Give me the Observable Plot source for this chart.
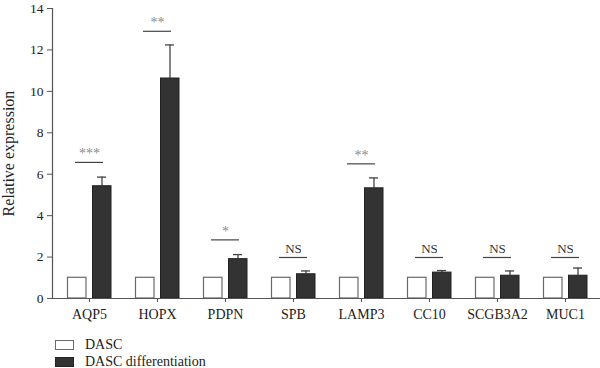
<!DOCTYPE html>
<html>
<head>
<meta charset="utf-8">
<script src="https://cdn.jsdelivr.net/npm/d3@7"></script>
<script src="https://cdn.jsdelivr.net/npm/@observablehq/plot@0.6"></script>
<style>
  html, body { margin: 0; padding: 0; background: #fff; }
  #chart { width: 600px; }
  .legend { font-family: "Liberation Serif", "DejaVu Serif", serif; font-size: 14px; color: #222; margin-left: 55px; }
  .legend .row { display: flex; align-items: center; height: 16.5px; }
  .legend .sw { width: 19px; height: 10px; box-sizing: border-box; margin-right: 11px; }
</style>
</head>
<body>
<div id="chart"></div>
<script>
const genes = ["AQP5", "HOPX", "PDPN", "SPB", "LAMP3", "CC10", "SCGB3A2", "MUC1"];
const seriesNames = ["DASC", "DASC differentiation"];
const dascValues = [1, 1, 1, 1, 1, 1, 1, 1];
const diffValues = [5.42, 10.62, 1.9, 1.17, 5.32, 1.25, 1.1, 1.1];
const diffErrTop = [5.86, 12.24, 2.12, 1.33, 5.82, 1.35, 1.33, 1.47];
const sigLabels = ["***", "**", "*", "NS", "**", "NS", "NS", "NS"];
const sigLevel = [6.57, 12.9, 2.83, 1.98, 6.5, 1.98, 1.98, 1.98];
const yTicks = [0, 2, 4, 6, 8, 10, 12, 14];

const dascRows = genes.map((g, i) => ({gene: g, value: dascValues[i]}));
const diffRows = genes.map((g, i) => ({gene: g, value: diffValues[i], err: diffErrTop[i]}));
const sigRows = genes.map((g, i) => ({gene: g, label: sigLabels[i], y: sigLevel[i], stars: sigLabels[i] !== "NS"}));

const serif = "Liberation Serif, DejaVu Serif, serif";
const axisColor = "#555";

const plot = Plot.plot({
  width: 600,
  height: 332,
  marginTop: 8,
  marginBottom: 34,
  marginLeft: 52,
  marginRight: 0,
  style: {fontFamily: serif, fontSize: "13.5px", color: "#222", background: "#fff"},
  x: {domain: genes, range: [55, 599], padding: 0, axis: null},
  y: {domain: [0, 14], axis: null},
  marks: [
    Plot.barY(dascRows, {x: "gene", y: "value", fill: "#fff", stroke: "#6a6a6a", strokeWidth: 1.2, insetLeft: 12.5, insetRight: 37}),
    Plot.ruleX(diffRows, {x: "gene", y1: "value", y2: "err", dx: 12.5, stroke: "#444", strokeWidth: 1.3}),
    Plot.tickY(diffRows, {x: "gene", y: "err", stroke: "#444", strokeWidth: 1.3, insetLeft: 42, insetRight: 17}),
    Plot.barY(diffRows, {x: "gene", y: "value", fill: "#333", stroke: "#222", strokeWidth: 1, insetLeft: 37.5, insetRight: 12}),
    Plot.tickY(sigRows, {x: "gene", y: "y", stroke: "#444", strokeWidth: 1.2, insetLeft: 20, insetRight: 20}),
    Plot.text(sigRows.filter(d => d.stars), {x: "gene", y: "y", text: "label", fill: "#8a8a8a", fontSize: 14, lineAnchor: "bottom", dy: -4}),
    Plot.text(sigRows.filter(d => !d.stars), {x: "gene", y: "y", text: "label", fill: "#333", fontSize: 13, lineAnchor: "bottom", dy: -4}),
    Plot.ruleY([0], {stroke: axisColor, strokeWidth: 1.2}),
    Plot.frame({anchor: "left", stroke: axisColor, strokeWidth: 1.2}),
    Plot.axisY({ticks: yTicks, tickSize: 5, tickPadding: 4, stroke: axisColor, fill: "#222", fontSize: 13.5, label: null}),
    Plot.axisY({ticks: [], tickSize: 0, fill: "#222", fontSize: 16,
      label: "Relative expression", labelAnchor: "center", labelOffset: 50, labelArrow: false}),
    Plot.axisX({tickSize: 4, tickPadding: 7, stroke: axisColor, fill: "#222", fontSize: 14, label: null})
  ]
});
document.getElementById("chart").appendChild(plot);

const legend = document.createElement("div");
legend.className = "legend";
const swatchStyles = [
  "background:#fff;border:1.2px solid #6a6a6a;",
  "background:#333;border:1px solid #222;"
];
seriesNames.forEach((name, i) => {
  const row = document.createElement("div");
  row.className = "row";
  const sw = document.createElement("span");
  sw.className = "sw";
  sw.setAttribute("style", swatchStyles[i]);
  const lab = document.createElement("span");
  lab.textContent = name;
  row.appendChild(sw);
  row.appendChild(lab);
  legend.appendChild(row);
});
legend.style.marginTop = "5px";
document.getElementById("chart").appendChild(legend);
</script>
</body>
</html>
